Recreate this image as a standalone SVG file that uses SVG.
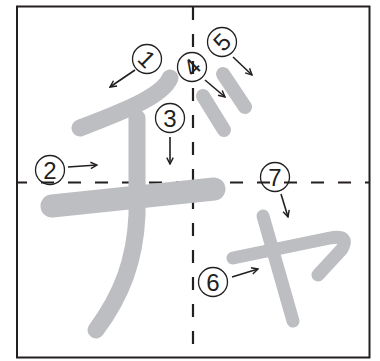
<svg xmlns="http://www.w3.org/2000/svg" width="380" height="361" viewBox="0 0 380 361">
<style>
.s{fill:none;stroke:#bdbec1;stroke-linecap:round;stroke-linejoin:round}
.g{fill:none;stroke:#231f20;stroke-width:2.2;stroke-dasharray:13 14}
.c{fill:none;stroke:#231f20;stroke-width:1.3}
.n{font-family:"Liberation Sans",Arial,sans-serif;font-size:24px;fill:#231f20;text-anchor:middle}
.a{fill:none;stroke:#231f20;stroke-width:1.6}
</style>
<defs>
<marker id="ah" viewBox="0 0 10 10" refX="9" refY="5" markerWidth="8" markerHeight="8" markerUnits="userSpaceOnUse" orient="auto">
<path d="M1,1 L9,5 L1,9" fill="none" stroke="#231f20" stroke-width="1.8"/>
</marker>
</defs>
<rect x="17" y="6.5" width="352.5" height="351" fill="#fff" stroke="#231f20" stroke-width="2"/>
<g id="guides">
<line class="g" x1="193" y1="7" x2="193" y2="357"/>
<line class="g" x1="17" y1="182.5" x2="369" y2="182.5" stroke-dashoffset="3"/>
</g>
<g id="stroke1"><path class="s" stroke-width="17" d="M170 78 C163 95 130 109 80 128"/></g>
<g id="stroke2"><path class="s" stroke-width="23" d="M52 206 L214 189"/></g>
<g id="stroke3"><path class="s" stroke-width="17" d="M137 118 L137 215 C135 260 122 295 96 330"/></g>
<g id="stroke4"><path class="s" stroke-width="14" d="M203 96 L224 130"/></g>
<g id="stroke5"><path class="s" stroke-width="14" d="M223 74 L245 107"/></g>
<g id="stroke6"><path class="s" stroke-width="13" d="M233 258 L330 238 Q350 234 342 249 L318 275"/></g>
<g id="stroke7"><path class="s" stroke-width="13" d="M263 216 L293 321"/></g>
<g id="connectors">
<line class="a" x1="135" y1="70" x2="110" y2="87" marker-end="url(#ah)"/>
<line class="a" x1="68" y1="167" x2="97" y2="165" marker-end="url(#ah)"/>
<line class="a" x1="170" y1="137" x2="170" y2="164" marker-end="url(#ah)"/>
<line class="a" x1="205" y1="80" x2="225" y2="97" marker-end="url(#ah)"/>
<line class="a" x1="233" y1="57" x2="252" y2="75" marker-end="url(#ah)"/>
<line class="a" x1="232" y1="277" x2="258" y2="269" marker-end="url(#ah)"/>
<line class="a" x1="281" y1="194" x2="288" y2="217" marker-end="url(#ah)"/>
</g>
<g id="label1"><circle class="c" cx="147" cy="59" r="14.5"/><text class="n" x="147" y="67.6" transform="rotate(45 147 59)">1</text></g>
<g id="label2"><circle class="c" cx="50" cy="170" r="14.5"/><text class="n" x="50" y="178.6">2</text></g>
<g id="label3"><circle class="c" cx="170" cy="118" r="14.5"/><text class="n" x="170" y="126.6">3</text></g>
<g id="label4"><circle class="c" cx="192" cy="67" r="14.5" fill="#fff"/><text class="n" x="192" y="75.6" transform="rotate(-45 192 67)">4</text></g>
<g id="label5"><circle class="c" cx="222" cy="42" r="14.5"/><text class="n" x="222" y="50.6" transform="rotate(-45 222 42)">5</text></g>
<g id="label6"><circle class="c" cx="213" cy="282" r="14.5"/><text class="n" x="213" y="290.6">6</text></g>
<g id="label7"><circle class="c" cx="275" cy="177" r="14.5"/><text class="n" x="275" y="185.6">7</text></g>
</svg>
